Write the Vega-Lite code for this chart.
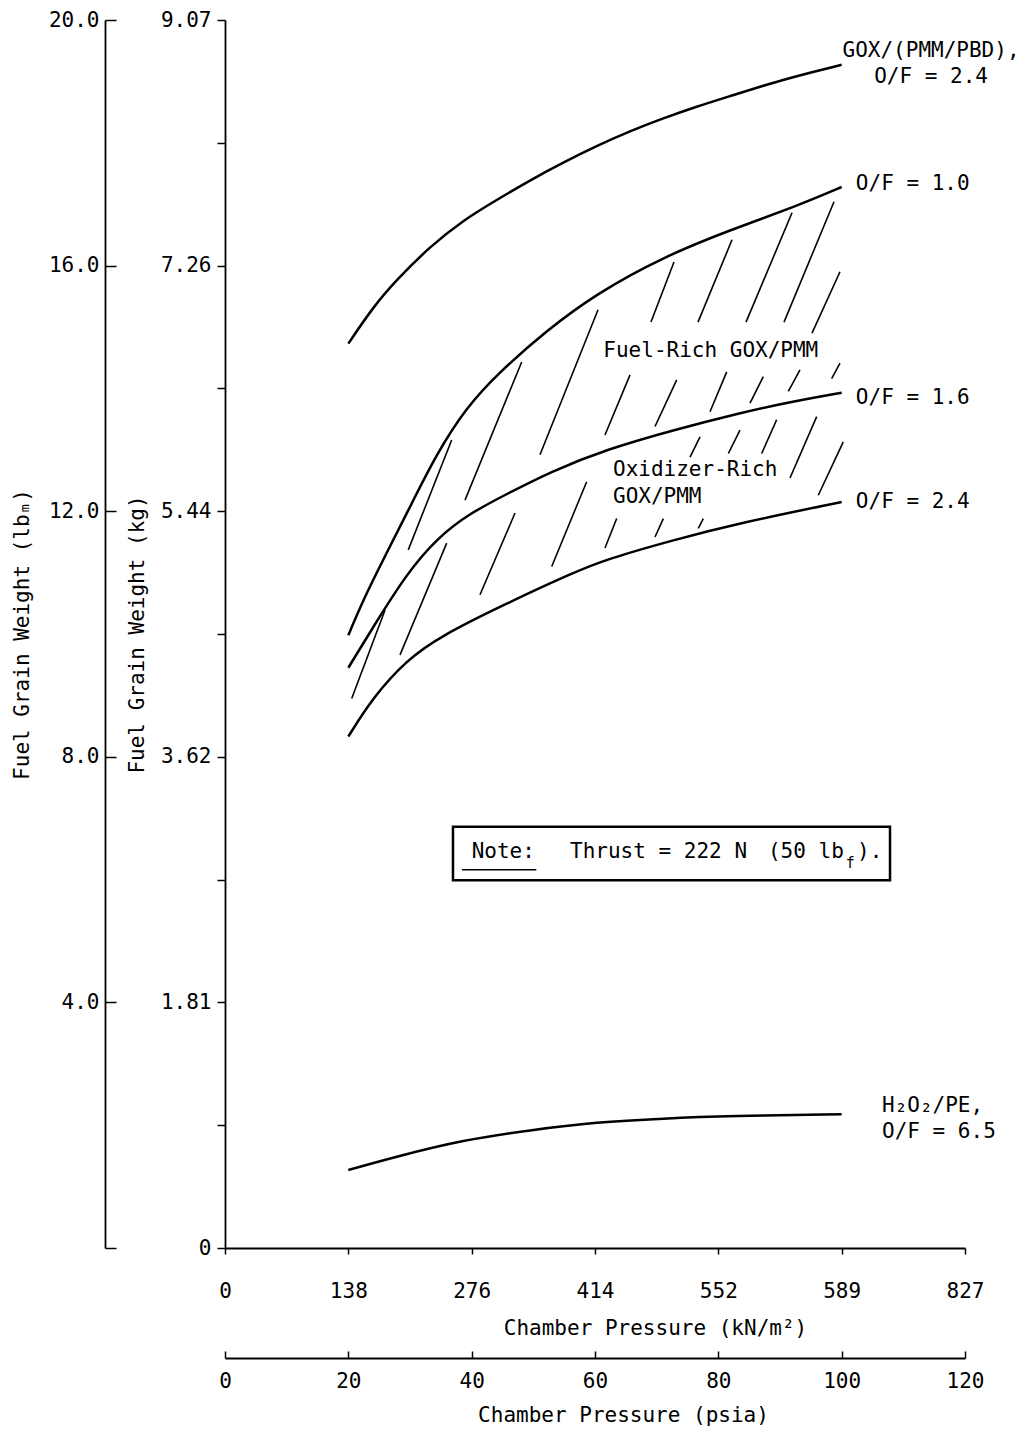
{
  "$schema": "https://vega.github.io/schema/vega-lite/v6.json",
  "width": 740,
  "height": 1228,
  "autosize": {"type": "none"},
  "padding": {"left": 225, "top": 20, "right": 69, "bottom": 184},
  "background": "white",
  "config": {
    "font": "DejaVu Sans Mono",
    "view": {"stroke": null},
    "axis": {
      "labelFont": "DejaVu Sans Mono", "titleFont": "DejaVu Sans Mono",
      "labelFontSize": 21, "titleFontSize": 21, "titleFontWeight": "normal",
      "labelColor": "black", "titleColor": "black", "domainColor": "black", "tickColor": "black",
      "domainWidth": 1.8, "tickWidth": 1.5, "grid": false, "labelOverlap": false, "labelFlush": false
    }
  },
  "datasets": {
    "curves": [
      {"s": "GOX/(PMM/PBD), O/F = 2.4", "x": 20, "y": 14.73},
      {"s": "GOX/(PMM/PBD), O/F = 2.4", "x": 24.05, "y": 15.33},
      {"s": "GOX/(PMM/PBD), O/F = 2.4", "x": 27.84, "y": 15.77},
      {"s": "GOX/(PMM/PBD), O/F = 2.4", "x": 33.24, "y": 16.31},
      {"s": "GOX/(PMM/PBD), O/F = 2.4", "x": 38.64, "y": 16.74},
      {"s": "GOX/(PMM/PBD), O/F = 2.4", "x": 44.06, "y": 17.07},
      {"s": "GOX/(PMM/PBD), O/F = 2.4", "x": 49.46, "y": 17.39},
      {"s": "GOX/(PMM/PBD), O/F = 2.4", "x": 54.86, "y": 17.68},
      {"s": "GOX/(PMM/PBD), O/F = 2.4", "x": 60.27, "y": 17.95},
      {"s": "GOX/(PMM/PBD), O/F = 2.4", "x": 65.68, "y": 18.19},
      {"s": "GOX/(PMM/PBD), O/F = 2.4", "x": 71.08, "y": 18.40},
      {"s": "GOX/(PMM/PBD), O/F = 2.4", "x": 76.49, "y": 18.59},
      {"s": "GOX/(PMM/PBD), O/F = 2.4", "x": 81.89, "y": 18.76},
      {"s": "GOX/(PMM/PBD), O/F = 2.4", "x": 87.29, "y": 18.93},
      {"s": "GOX/(PMM/PBD), O/F = 2.4", "x": 92.7, "y": 19.09},
      {"s": "GOX/(PMM/PBD), O/F = 2.4", "x": 100, "y": 19.27},
      {"s": "GOX/PMM, O/F = 1.0", "x": 20, "y": 9.98},
      {"s": "GOX/PMM, O/F = 1.0", "x": 22.38, "y": 10.55},
      {"s": "GOX/PMM, O/F = 1.0", "x": 25.95, "y": 11.27},
      {"s": "GOX/PMM, O/F = 1.0", "x": 29.51, "y": 11.97},
      {"s": "GOX/PMM, O/F = 1.0", "x": 34.38, "y": 12.95},
      {"s": "GOX/PMM, O/F = 1.0", "x": 39.24, "y": 13.70},
      {"s": "GOX/PMM, O/F = 1.0", "x": 44.11, "y": 14.23},
      {"s": "GOX/PMM, O/F = 1.0", "x": 52.22, "y": 14.95},
      {"s": "GOX/PMM, O/F = 1.0", "x": 60.32, "y": 15.55},
      {"s": "GOX/PMM, O/F = 1.0", "x": 71.03, "y": 16.14},
      {"s": "GOX/PMM, O/F = 1.0", "x": 81.89, "y": 16.58},
      {"s": "GOX/PMM, O/F = 1.0", "x": 92.76, "y": 16.97},
      {"s": "GOX/PMM, O/F = 1.0", "x": 100, "y": 17.28},
      {"s": "GOX/PMM, O/F = 1.6", "x": 20, "y": 9.45},
      {"s": "GOX/PMM, O/F = 1.6", "x": 24.0, "y": 10.11},
      {"s": "GOX/PMM, O/F = 1.6", "x": 29.51, "y": 10.99},
      {"s": "GOX/PMM, O/F = 1.6", "x": 34.38, "y": 11.56},
      {"s": "GOX/PMM, O/F = 1.6", "x": 39.73, "y": 11.97},
      {"s": "GOX/PMM, O/F = 1.6", "x": 45.73, "y": 12.28},
      {"s": "GOX/PMM, O/F = 1.6", "x": 52.70, "y": 12.64},
      {"s": "GOX/PMM, O/F = 1.6", "x": 61.95, "y": 13.01},
      {"s": "GOX/PMM, O/F = 1.6", "x": 72.65, "y": 13.32},
      {"s": "GOX/PMM, O/F = 1.6", "x": 83.51, "y": 13.60},
      {"s": "GOX/PMM, O/F = 1.6", "x": 91.62, "y": 13.78},
      {"s": "GOX/PMM, O/F = 1.6", "x": 100, "y": 13.93},
      {"s": "GOX/PMM, O/F = 2.4", "x": 20, "y": 8.33},
      {"s": "GOX/PMM, O/F = 2.4", "x": 24.0, "y": 8.97},
      {"s": "GOX/PMM, O/F = 2.4", "x": 29.51, "y": 9.58},
      {"s": "GOX/PMM, O/F = 2.4", "x": 34.86, "y": 9.96},
      {"s": "GOX/PMM, O/F = 2.4", "x": 45.68, "y": 10.50},
      {"s": "GOX/PMM, O/F = 2.4", "x": 56.49, "y": 11.00},
      {"s": "GOX/PMM, O/F = 2.4", "x": 61.95, "y": 11.22},
      {"s": "GOX/PMM, O/F = 2.4", "x": 72.7, "y": 11.53},
      {"s": "GOX/PMM, O/F = 2.4", "x": 83.51, "y": 11.81},
      {"s": "GOX/PMM, O/F = 2.4", "x": 100, "y": 12.15},
      {"s": "H2O2/PE, O/F = 6.5", "x": 20, "y": 1.27},
      {"s": "H2O2/PE, O/F = 6.5", "x": 27.84, "y": 1.49},
      {"s": "H2O2/PE, O/F = 6.5", "x": 38.64, "y": 1.76},
      {"s": "H2O2/PE, O/F = 6.5", "x": 49.46, "y": 1.92},
      {"s": "H2O2/PE, O/F = 6.5", "x": 60.27, "y": 2.05},
      {"s": "H2O2/PE, O/F = 6.5", "x": 71.08, "y": 2.11},
      {"s": "H2O2/PE, O/F = 6.5", "x": 81.89, "y": 2.15},
      {"s": "H2O2/PE, O/F = 6.5", "x": 100, "y": 2.18}
    ],
    "hatch": [
      {"x": 20.55, "y": 8.95, "x2": 25.95, "y2": 10.39},
      {"x": 28.38, "y": 9.66, "x2": 35.95, "y2": 11.48},
      {"x": 29.72, "y": 11.37, "x2": 36.76, "y2": 13.16},
      {"x": 38.92, "y": 12.18, "x2": 48.11, "y2": 14.43},
      {"x": 41.35, "y": 10.64, "x2": 47.03, "y2": 11.97},
      {"x": 51.08, "y": 12.92, "x2": 60.49, "y2": 15.28},
      {"x": 52.98, "y": 11.10, "x2": 58.65, "y2": 12.48},
      {"x": 61.62, "y": 11.40, "x2": 63.52, "y2": 11.88},
      {"x": 69.73, "y": 11.58, "x2": 71.08, "y2": 11.88},
      {"x": 76.75, "y": 11.72, "x2": 77.56, "y2": 11.88},
      {"x": 75.41, "y": 12.88, "x2": 77.03, "y2": 13.21},
      {"x": 81.62, "y": 12.94, "x2": 83.51, "y2": 13.32},
      {"x": 87.03, "y": 12.94, "x2": 89.46, "y2": 13.49},
      {"x": 91.62, "y": 12.54, "x2": 95.95, "y2": 13.54},
      {"x": 96.21, "y": 12.26, "x2": 100.26, "y2": 13.13},
      {"x": 61.62, "y": 13.24, "x2": 65.68, "y2": 14.22},
      {"x": 69.73, "y": 13.38, "x2": 73.25, "y2": 14.14},
      {"x": 78.65, "y": 13.62, "x2": 81.36, "y2": 14.27},
      {"x": 85.14, "y": 13.76, "x2": 87.29, "y2": 14.19},
      {"x": 91.35, "y": 13.95, "x2": 93.24, "y2": 14.30},
      {"x": 98.38, "y": 14.16, "x2": 99.73, "y2": 14.41},
      {"x": 69.08, "y": 15.08, "x2": 72.81, "y2": 16.06},
      {"x": 76.70, "y": 15.08, "x2": 82.22, "y2": 16.42},
      {"x": 84.49, "y": 15.08, "x2": 91.95, "y2": 16.86},
      {"x": 90.65, "y": 15.08, "x2": 98.76, "y2": 17.04},
      {"x": 95.19, "y": 14.90, "x2": 99.73, "y2": 15.90}
    ],
    "labelsLeft": [
      {"x": 102.3, "y": 17.33, "t": "O/F = 1.0"},
      {"x": 102.3, "y": 13.84, "t": "O/F = 1.6"},
      {"x": 102.3, "y": 12.15, "t": "O/F = 2.4"},
      {"x": 106.54, "y": 2.31, "t": "H₂O₂/PE,"},
      {"x": 106.54, "y": 1.89, "t": "O/F = 6.5"},
      {"x": 61.35, "y": 14.61, "t": "Fuel-Rich GOX/PMM"},
      {"x": 62.92, "y": 12.67, "t": "Oxidizer-Rich"},
      {"x": 62.92, "y": 12.23, "t": "GOX/PMM"},
      {"x": 40.0, "y": 6.45, "t": "Note:"},
      {"x": 55.95, "y": 6.45, "t": "Thrust = 222 N"},
      {"x": 88.05, "y": 6.45, "t": "(50 lb"},
      {"x": 102.49, "y": 6.45, "t": ")."}
    ],
    "labelsCenter": [
      {"x": 114.49, "y": 19.50, "t": "GOX/(PMM/PBD),"},
      {"x": 114.49, "y": 19.07, "t": "O/F = 2.4"}
    ],
    "sub": [
      {"x": 100.68, "y": 6.27, "t": "f"}
    ],
    "box": [
      {"x": 36.97, "x2": 107.84, "y": 6.86, "y2": 5.99}
    ],
    "underline": [
      {"x": 38.43, "x2": 50.48, "y": 6.16}
    ]
  },
  "encoding": {
    "x": {"field": "x", "type": "quantitative", "scale": {"domain": [0, 120], "nice": false, "zero": false}, "axis": null},
    "y": {"field": "y", "type": "quantitative", "scale": {"domain": [0, 20], "nice": false, "zero": false}, "axis": null}
  },
  "resolve": {"axis": {"x": "independent", "y": "independent"}},
  "layer": [
    {
      "data": {"name": "curves"},
      "mark": {"type": "line", "color": "black", "strokeWidth": 2.5, "interpolate": "basis"},
      "encoding": {
        "x": {
          "field": "x", "type": "quantitative",
          "scale": {"domain": [0, 120], "nice": false, "zero": false},
          "axis": {
            "orient": "bottom", "offset": 0, "values": [0, 20, 40, 60, 80, 100, 120],
            "labelExpr": "datum.value==0?'0':datum.value==20?'138':datum.value==40?'276':datum.value==60?'414':datum.value==80?'552':datum.value==100?'589':'827'",
            "title": "Chamber Pressure (kN/m²)", "tickSize": 6, "labelPadding": 26,
            "titleX": 430, "titleY": 80, "titleAlign": "center", "titleBaseline": "middle"
          }
        },
        "y": {
          "field": "y", "type": "quantitative",
          "scale": {"domain": [0, 20], "nice": false, "zero": false},
          "axis": {
            "orient": "left", "offset": 0, "values": [0, 2, 4, 6, 8, 10, 12, 14, 16, 18, 20],
            "labelExpr": "datum.value==20?'9.07':datum.value==16?'7.26':datum.value==12?'5.44':datum.value==8?'3.62':datum.value==4?'1.81':datum.value==0?'0':''",
            "title": "Fuel Grain Weight (kg)", "tickSize": 8, "labelPadding": 6,
            "titleX": -88, "titleY": 614, "titleAngle": -90, "titleAlign": "center", "titleBaseline": "middle"
          }
        },
        "detail": {"field": "s", "type": "nominal"}
      }
    },
    {
      "data": {"name": "hatch"},
      "mark": {"type": "rule", "color": "black", "strokeWidth": 1.6},
      "encoding": {
        "x": {
          "field": "x", "type": "quantitative",
          "scale": {"domain": [0, 120], "nice": false, "zero": false},
          "axis": {
            "orient": "bottom", "offset": 110, "values": [0, 20, 40, 60, 80, 100, 120], "format": "d",
            "title": "Chamber Pressure (psia)", "tickSize": -7, "labelPadding": 19,
            "titleX": 398, "titleY": 57, "titleAlign": "center", "titleBaseline": "middle"
          }
        },
        "y": {
          "field": "y", "type": "quantitative",
          "scale": {"domain": [0, 20], "nice": false, "zero": false},
          "axis": {
            "orient": "left", "offset": 120, "values": [0, 4, 8, 12, 16, 20],
            "labelExpr": "datum.value==0?'':format(datum.value,'.1f')",
            "title": "Fuel Grain Weight (lbₘ)", "tickSize": -11, "labelPadding": 17,
            "titleX": -83, "titleY": 614, "titleAngle": -90, "titleAlign": "center", "titleBaseline": "middle"
          }
        },
        "x2": {"field": "x2"},
        "y2": {"field": "y2"}
      }
    },
    {
      "data": {"name": "labelsLeft"},
      "mark": {"type": "text", "align": "left", "baseline": "middle", "fontSize": 21, "font": "DejaVu Sans Mono", "color": "black"},
      "encoding": {"text": {"field": "t"}}
    },
    {
      "data": {"name": "labelsCenter"},
      "mark": {"type": "text", "align": "center", "baseline": "middle", "fontSize": 21, "font": "DejaVu Sans Mono", "color": "black"},
      "encoding": {"text": {"field": "t"}}
    },
    {
      "data": {"name": "sub"},
      "mark": {"type": "text", "align": "left", "baseline": "middle", "fontSize": 15, "font": "DejaVu Sans Mono", "color": "black"},
      "encoding": {"text": {"field": "t"}}
    },
    {
      "data": {"name": "box"},
      "mark": {"type": "rect", "fillOpacity": 0, "stroke": "black", "strokeWidth": 2.5},
      "encoding": {"x2": {"field": "x2"}, "y2": {"field": "y2"}}
    },
    {
      "data": {"name": "underline"},
      "mark": {"type": "rule", "color": "black", "strokeWidth": 1.5},
      "encoding": {"x2": {"field": "x2"}}
    },
    {
      "data": {"values": [{}]},
      "mark": {"type": "rule", "color": "black", "strokeWidth": 1.8},
      "encoding": {
        "x": {"datum": 0, "type": "quantitative", "axis": null},
        "y": {"datum": 0, "type": "quantitative", "axis": null},
        "y2": {"datum": -0.33}
      }
    },
    {
      "data": {"values": [{}]},
      "mark": {"type": "rule", "color": "black", "strokeWidth": 1.8},
      "encoding": {
        "x": {"datum": -4.05, "type": "quantitative", "axis": null},
        "x2": {"datum": 0},
        "y": {"datum": 0, "type": "quantitative", "axis": null}
      }
    }
  ]
}
